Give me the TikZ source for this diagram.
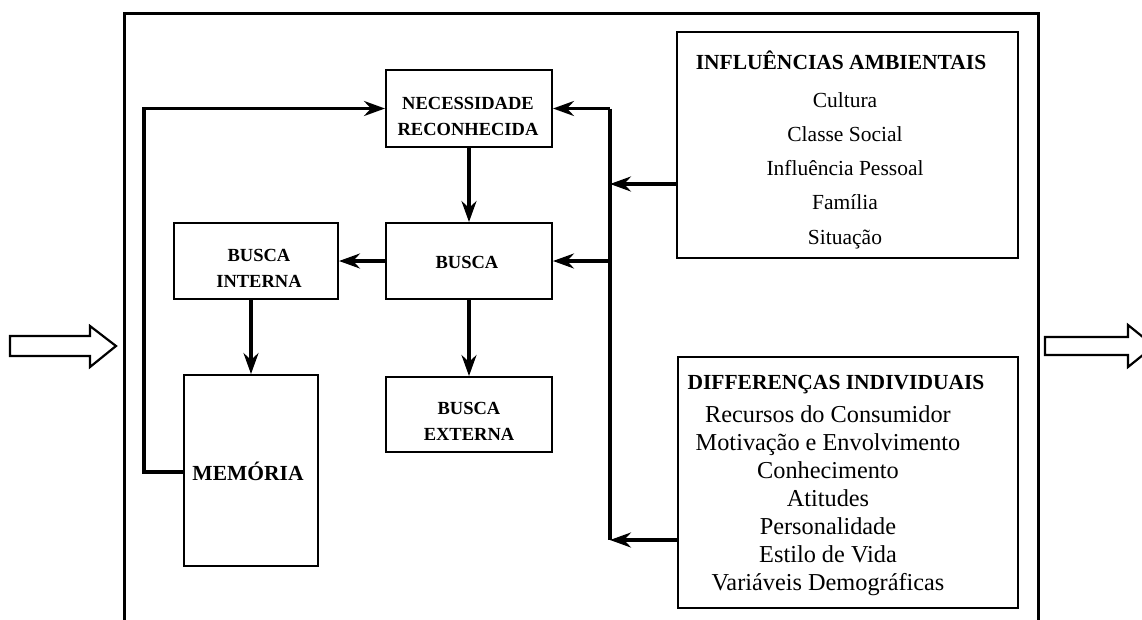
\documentclass[tikz,border=0pt]{standalone}
\usepackage{fontspec}
\setmainfont{Liberation Serif}
\usetikzlibrary{arrows.meta}
\begin{document}
\begin{tikzpicture}[x=1pt,y=-1pt,
  box/.style={draw, line width=2pt, inner sep=0pt},
  lbl/.style={font=\fontsize{18.5}{26}\selectfont\bfseries, align=center, inner sep=0pt},
  flow/.style={line width=3.3pt, -{Stealth[length=21pt,width=15pt,inset=7pt]}},
  wire/.style={line width=3.3pt},
  hollow/.style={draw, line width=2.2pt, fill=white, line join=miter},
  frame/.style={draw, line width=3pt}]
\useasboundingbox (0,0) rectangle (1142,619);

% outer frame, open at the bottom
\draw[frame] (124,630) -- (124,13) -- (1038,13) -- (1038,630);

% hollow input / output arrows
\draw[hollow] (10,336) -- (90,336) -- (90,326) -- (116,346) -- (90,367) -- (90,356) -- (10,356) -- cycle;
\draw[hollow] (1045,337) -- (1128,337) -- (1128,325) -- (1154,346) -- (1128,367) -- (1128,355) -- (1045,355) -- cycle;

% process boxes
\node[box, minimum width=166pt, minimum height=77pt] (nec)   at (469,108.5) {};
\node[box, minimum width=166pt, minimum height=76pt] (busca) at (469,261) {};
\node[box, minimum width=164pt, minimum height=76pt] (bint)  at (256,261) {};
\node[box, minimum width=134pt, minimum height=191pt] (mem)  at (251,470.5) {};
\node[box, minimum width=166pt, minimum height=75pt] (bext)  at (469,414.5) {};
\node[box, minimum width=341pt, minimum height=226pt] (infl) at (847.5,145) {};
\node[box, minimum width=340pt, minimum height=251pt] (dif)  at (848,482.5) {};

% box labels
\node[lbl] (necT)  at (468,116) {NECESSIDADE\\RECONHECIDA};
\node[lbl] (buscaT) at (467,262) {BUSCA};
\node[lbl] (bintT) at (259,268.5) {BUSCA\\INTERNA};
\node[lbl] (bextT) at (469,421.5) {BUSCA\\EXTERNA};
\node[lbl, font=\fontsize{21.5}{26}\selectfont\bfseries, anchor=base] (memT) at (248,480) {MEMÓRIA};

\node[inner sep=0pt, font=\fontsize{21.5}{26}\selectfont\bfseries] (inflH) at (841,60) {INFLUÊNCIAS AMBIENTAIS};
\node[align=center, inner sep=0pt, font=\fontsize{21.5}{34.3}\selectfont] (inflT) at (845,170.5)
  {Cultura\\Classe Social\\Influência Pessoal\\Família\\Situação};
\node[inner sep=0pt, font=\fontsize{21.5}{26}\selectfont\bfseries] (difH) at (836,385) {DIFFERENÇAS INDIVIDUAIS};
\node[align=center, inner sep=0pt, font=\fontsize{24.3}{28.1}\selectfont] (difT) at (828,500.5)
  {Recursos do Consumidor\\Motivação e Envolvimento\\Conhecimento\\Atitudes\\Personalidade\\Estilo de Vida\\Variáveis Demográficas};

% main flow
\draw[flow] (nec.south) -- (busca.north);
\draw[flow] (busca.west) -- (bint.east);
\draw[flow] (mem.north |- bint.south) -- (mem.north);
\draw[flow] (busca.south) -- (bext.north);

% memory feedback into need recognition
\draw[flow] (mem.west |- 0,472) -- (144,472) |- (nec.west);

% influence bus
\coordinate (bt) at (610,108.5);
\coordinate (bb) at ([yshift=-57.5pt]dif.west -| bt);
\draw[wire] (bt) -- (bb);
\draw[flow] (bt) -- (nec.east);
\draw[flow] (bt |- busca.east) -- (busca.east);
\draw[flow] ([yshift=-39pt]infl.west) -- ([yshift=-39pt]infl.west -| bt);
\draw[flow] ([yshift=-57.5pt]dif.west) -- (bb);
\end{tikzpicture}
\end{document}
